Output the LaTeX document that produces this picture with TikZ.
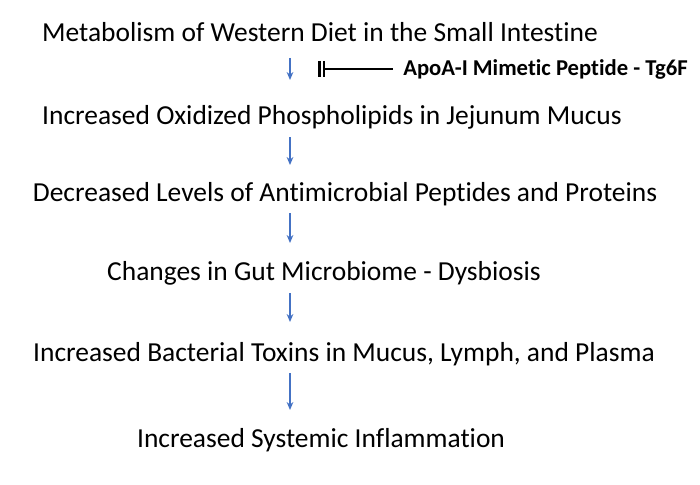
\documentclass[tikz,border=0pt]{standalone}
\usepackage{fontspec}
\setmainfont{Carlito}[Ligatures=NoCommon]
\usepackage{xcolor}
\definecolor{arrowBlue}{RGB}{68, 114, 196}
\usetikzlibrary{arrows.meta}

\begin{document}
\begin{tikzpicture}[x=0.75pt, y=-0.75pt,
    stage/.style={inner sep=0pt, font=\fontsize{20.6}{23}\selectfont},
    flow/.style={-{Stealth[length=6pt,width=5pt]}, line width=1pt, arrowBlue}]
    \useasboundingbox (0,0) rectangle (700,485);

    % Stages
    \node[stage] (diet) at (320,32) {Metabolism of Western Diet in the Small Intestine};
    \node[stage] (oxpl) at (332,117) {Increased Oxidized Phospholipids in Jejunum Mucus};
    \node[stage] (amp) at (345,194) {Decreased Levels of Antimicrobial Peptides and Proteins};
    \node[stage] (dysb) at (324,273) {Changes in Gut Microbiome - Dysbiosis};
    \node[stage] (toxin) at (344,354) {Increased Bacterial Toxins in Mucus, Lymph, and Plasma};
    \node[stage] (inflam) at (321,440) {Increased Systemic Inflammation};

    % Arrow column
    \coordinate (ax) at (290,0);

    % Arrows
    \draw[flow] ([yshift=-19.5pt]diet.center -| ax) -- ([yshift=27.75pt]oxpl.center -| ax);
    \draw[flow] ([yshift=-15pt]oxpl.center -| ax) -- ([yshift=21.75pt]amp.center -| ax);
    \draw[flow] ([yshift=-14.25pt]amp.center -| ax) -- ([yshift=22.5pt]dysb.center -| ax);
    \draw[flow] ([yshift=-15pt]dysb.center -| ax) -- ([yshift=24pt]toxin.center -| ax);
    \draw[flow] ([yshift=-14.25pt]toxin.center -| ax) -- ([yshift=22.5pt]inflam.center -| ax);

    % Inhibitor
    \node[inner sep=0pt, anchor=west, font=\fontsize{17}{19}\selectfont\bfseries] (tg6f) at (403,69) {ApoA-I Mimetic Peptide - Tg6F};
    \coordinate (bar) at (324,69);
    \draw[line width=1.8pt] (bar) -- ([xshift=-7.5pt]tg6f.west);
    \draw[line width=1.8pt] ([yshift=6pt]bar) -- ([yshift=-6pt]bar);
    \draw[line width=1.8pt] ([xshift=-3.5pt,yshift=6pt]bar) -- ([xshift=-3.5pt,yshift=-6pt]bar);
\end{tikzpicture}
\end{document}
